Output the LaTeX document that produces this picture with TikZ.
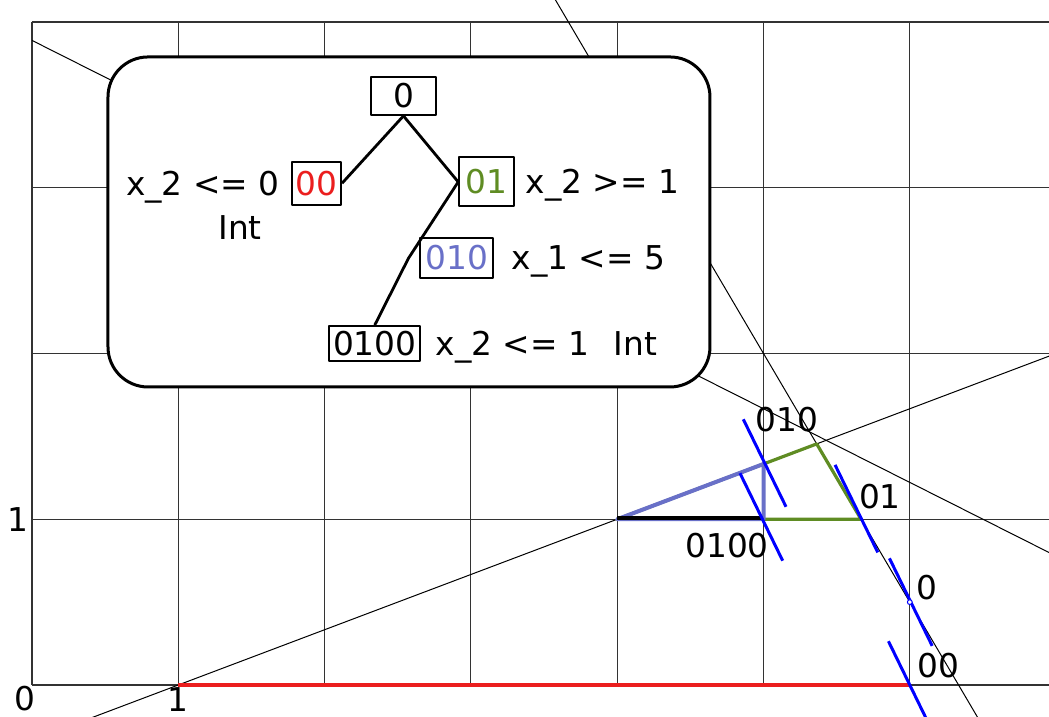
\documentclass[tikz,border=0pt]{standalone}
\usepackage{xcolor}
\usepackage{fontspec}
\setmainfont{DejaVu Sans}
\usetikzlibrary{positioning}

\definecolor{cutgreen}{RGB}{95,140,35}
\definecolor{cutpurple}{RGB}{105,112,200}
\definecolor{cutred}{RGB}{235,30,30}

\tikzset{
    gridline/.style={line width=0.55pt, black!80},
    cutline/.style={line width=0.5pt, black},
    normal/.style={line width=1.5pt, blue},
    treebox/.style={draw, line width=1pt, inner sep=0pt, minimum height=19pt},
    treeedge/.style={line width=1.4pt},
    lbl/.style={inner sep=0pt},
}

\begin{document}
\begin{tikzpicture}[x=73.15pt, y=82.875pt, font=\fontsize{16.4}{19}\selectfont, line join=round]
    \useasboundingbox (-0.2187, -0.1931) rectangle (6.9515, 4.1327);
    \clip (-0.2187, -0.1931) rectangle (6.9515, 4.1327);
    % grid
    \foreach \x in {0, ..., 6}
        \draw [gridline] (\x, 0) -- (\x, 4);
    \foreach \y in {0, ..., 3}
        \draw [gridline] (0, \y) -- (7, \y);
    \draw [gridline, line width=1pt] (0, 4) -- (7, 4);
    % cuts
    \draw [cutline] (0.4, -0.2) -- (7.3, 2.1);
    \draw [cutline] (0, 3.8889) -- (7.2, 0.6889);
    \draw [cutline] (3.5333, 4.2) -- (6.5333, -0.3);
    % regions
    \draw [cutred, line width=2pt] (1, 0) -- (6, 0);
    \draw [cutgreen, line width=1.6pt] (4, 1) -- (5.3636, 1.4545) -- (5.6667, 1) -- cycle;
    \draw [cutpurple, line width=2pt] (4, 1) -- (5, 1.3333) -- (5, 1) -- cycle;
    \draw [line width=2pt] (4, 1.01) -- (4.985, 1.01);
    % normals
    \foreach \px/\py in {5.008/1.339, 4.985/1.014, 5.635/1.064, 6.007/0.5, 6/0}
        \draw [normal, shift={(\px, \py)}] (-0.146, 0.264) -- (0.146, -0.264);
    \draw [blue, fill=white, line width=0.5pt] (6, 0.5) circle [radius=1.2pt];
    % labels
    \node (o) at (-0.048, -0.08) {0};
    \node (x1) at (1, -0.09) {1};
    \node (y1) at (-0.096, 1) {1};
    \node (p010) at (5.161, 1.603) {010};
    \node (p01) at (5.796, 1.134) {01};
    \node (p0100) at (4.751, 0.839) {0100};
    \node (p0) at (6.118, 0.588) {0};
    \node (p00) at (6.193, 0.118) {00};
    % tree
    \draw [fill=white, line width=1.5pt, rounded corners=20pt] (0.5195, 1.798) rectangle (4.634, 3.789);
    \node [treebox, minimum width=32.5pt] (t0) at (2.539, 3.554) {0};
    \node [treebox, minimum width=24.5pt, minimum height=21.5pt, text=cutred] (t00) at (1.945, 3.027) {00};
    \node [treebox, minimum width=27.5pt, minimum height=24.5pt, text=cutgreen] (t01) at (3.108, 3.035) {01};
    \node [treebox, minimum width=36.5pt, minimum height=20pt, text=cutpurple] (t010) at (2.904, 2.578) {010};
    \node [treebox, minimum width=45.5pt, minimum height=17.5pt] (t0100) at (2.343, 2.060) {0100};
    \node [lbl, base left=5.6pt of t00] (c00) {x\_2 <= 0};
    \node [lbl] (i00) at (1.422, 2.757) {Int};
    \node [lbl, base right=5pt of t01] (c01) {x\_2 >= 1};
    \node [lbl, base right=8.5pt of t010] (c010) {x\_1 <= 5};
    \node [lbl, base right=7pt of t0100] (c0100) {x\_2 <= 1};
    \node [lbl, base right=12pt of c0100] (i0100) {Int};
    \coordinate (b010) at (2.573, 2.574);
    \draw [treeedge] (t0.south) -- (t00.east);
    \draw [treeedge] (t0.south) -- (t01.west);
    \draw [treeedge] (t01.west) -- (b010) -- (t0100.north);
\end{tikzpicture}
\end{document}
